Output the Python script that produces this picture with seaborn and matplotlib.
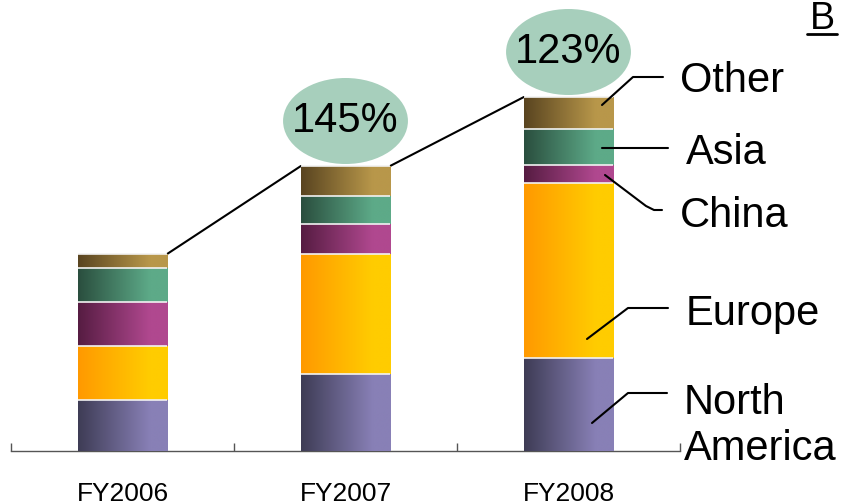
import numpy as np
import pandas as pd
import matplotlib
matplotlib.use("Agg")
import matplotlib.pyplot as plt
import seaborn as sns
from matplotlib.patches import Ellipse
from matplotlib.lines import Line2D
from matplotlib.colors import to_rgb

# ---- data ----
years = ["FY2006", "FY2007", "FY2008"]
regions = ["North America", "Europe", "China", "Asia", "Other"]
north_america = [51, 77, 93]
europe = [54, 120, 175]
china = [44, 30, 18]
asia = [34, 28, 36]
other = [14, 30, 32]
growth_labels = ["145%", "123%"]
region_labels = ["North\nAmerica", "Europe", "China", "Asia", "Other"]

# gradient colours (dark left -> light right)
grad_left = ["#3e3c55", "#ff9900", "#561c42", "#2a4e3e", "#594420"]
grad_right = ["#8880b6", "#ffcc00", "#b0488f", "#5daa88", "#b8974a"]

series = [north_america, europe, china, asia, other]
rows = []
for yi, y in enumerate(years):
    cum = 0
    for ri, r in enumerate(regions):
        cum += series[ri][yi]
        rows.append(dict(year=y, region=r, value=series[ri][yi], cum=cum))
df = pd.DataFrame(rows)
totals = df.groupby("year", sort=False)["cum"].max().values

W, H = 841, 504
sns.set_style("white")
plt.rcParams["font.family"] = ["Liberation Sans", "DejaVu Sans"]
plt.rcParams["text.color"] = "black"
plt.rcParams["xtick.color"] = "black"
fig = plt.figure(figsize=(W / 100, H / 100), dpi=100)

ax = fig.add_axes([11 / W, 53 / H, 669 / W, 451 / H])
hue_order = regions[::-1]
pal = dict(zip(regions, grad_right))
sns.barplot(data=df, x="year", y="cum", hue="region", hue_order=hue_order,
            order=years, dodge=False, palette=pal, width=0.4, legend=False,
            ax=ax, saturation=1, edgecolor="none")

# gradient overlays
N = 200
t = np.clip(np.linspace(0, 1, N) / 0.8, 0, 1)
for k, (cont, reg) in enumerate(zip(ax.containers, hue_order)):
    ri = regions.index(reg)
    c0, c1 = np.array(to_rgb(grad_left[ri])), np.array(to_rgb(grad_right[ri]))
    img = (c0[None, :] * (1 - t[:, None]) + c1[None, :] * t[:, None])[None, :, :]
    for yi, p in enumerate(cont.patches):
        top = p.get_height()
        bottom = top - series[ri][yi]
        x0, w = p.get_x(), p.get_width()
        ax.imshow(img, extent=(x0, x0 + w, bottom, top), aspect="auto",
                  zorder=3 + k * 0.01, interpolation="bilinear")
        ax.plot([x0, x0 + w], [top, top], color="#f2f2f2", lw=1.2,
                zorder=3 + k * 0.01 + 0.005, solid_capstyle="butt")

ax.set_xlim(-0.5, 2.5)
ax.set_ylim(0, 451)
ax.set_xlabel("")
ax.set_ylabel("")
ax.set_yticks([])
for s in ["left", "right", "top"]:
    ax.spines[s].set_visible(False)
ax.spines["bottom"].set_color("#555555")
ax.spines["bottom"].set_linewidth(1.0)
ax.set_xticks(range(len(years)))
ax.set_xticklabels(years, fontsize=19, color="black")
ax.tick_params(axis="x", which="major", length=0, pad=22, bottom=True)
ax.set_xticks([-0.5, 0.5, 1.5, 2.5], minor=True)
ax.tick_params(axis="x", which="minor", direction="in", length=6,
               color="#555555", width=1, bottom=True)
ax.patch.set_alpha(0)

# connector lines and growth ellipses
half = 0.2
for i in range(len(years) - 1):
    ax.plot([i + half, i + 1 - half], [totals[i], totals[i + 1]],
            color="black", lw=1.5, zorder=2)
    e = Ellipse((i + 1, totals[i + 1] + 45), width=0.56, height=86,
                facecolor="#a7cfbc", edgecolor="none", zorder=5, clip_on=False)
    ax.add_patch(e)
    ax.text(i + 1, totals[i + 1] + 45, growth_labels[i], ha="center",
            va="center", fontsize=30, zorder=6, clip_on=False)


def px(x, y):
    return (x / W, 1 - y / H)


# region labels with leader lines (pixel layout)
leaders = {
    "Other": [(602, 105), (633, 77), (663, 77)],
    "Asia": [(602, 148), (668, 148)],
    "China": [(605, 175), (646, 206), (654, 210), (662, 210)],
    "Europe": [(587, 339), (628, 308), (668, 308)],
    "North America": [(592, 423), (628, 393), (667, 393)],
}
label_pos = {
    "Other": (680, 81),
    "Asia": (686, 153),
    "China": (680, 216),
    "Europe": (686, 314),
    "North America": (684, 426),
}
for reg, lab in zip(regions, region_labels):
    pts = leaders[reg]
    xs = [px(*p)[0] for p in pts]
    ys = [px(*p)[1] for p in pts]
    fig.add_artist(Line2D(xs, ys, color="black", lw=1.5, zorder=7))
    lx, ly = px(*label_pos[reg])
    fig.text(lx, ly, lab, fontsize=30, ha="left", va="center",
             linespacing=1.2, zorder=8)

# corner "B"
bx, by = px(810, 29)
fig.text(bx, by, "B", fontsize=27, ha="left", va="baseline")
fig.add_artist(Line2D([807 / W, 837 / W], [1 - 34 / H, 1 - 34 / H],
                      color="black", lw=2))

fig.savefig("out.png", dpi=100)
